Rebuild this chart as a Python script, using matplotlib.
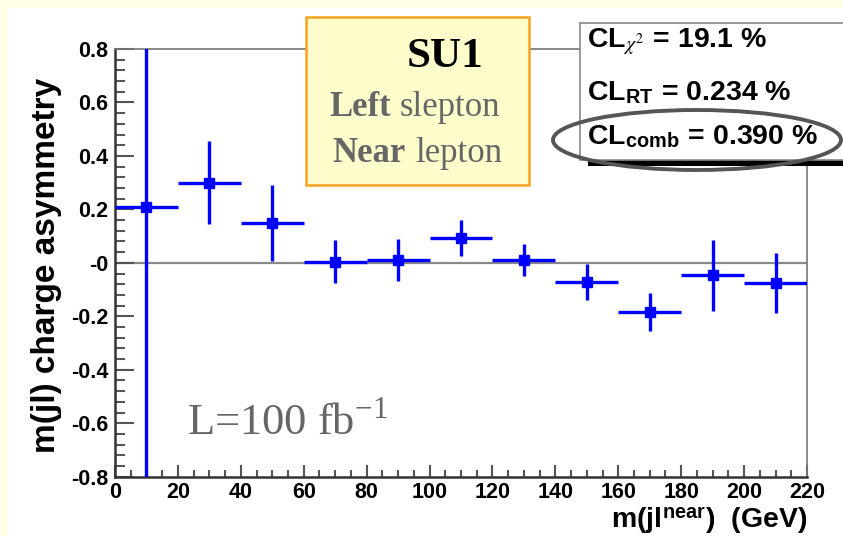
import matplotlib
matplotlib.use("Agg")
import matplotlib.pyplot as plt
from matplotlib.patches import Rectangle, Ellipse
from matplotlib.ticker import MultipleLocator, FuncFormatter

# charge asymmetry per m(jl) bin
bin_centres = [10, 30, 50, 70, 90, 110, 130, 150, 170, 190, 210]
bin_half_width = 10
asymmetry = [0.21, 0.30, 0.15, 0.005, 0.01, 0.093, 0.01, -0.072, -0.184, -0.047, -0.075]
asym_err = [1.2, 0.155, 0.143, 0.082, 0.078, 0.066, 0.06, 0.068, 0.07, 0.134, 0.111]

cl_lines = [r"CL$_{\chi^{2}}$ = 19.1 %",
            r"CL$_\mathregular{RT}$ = 0.234 %",
            r"CL$_\mathregular{comb}$ = 0.390 %"]

W, H = 843, 536
plt.rcParams['mathtext.fontset'] = 'stix'
sans = 'Liberation Sans'
serif = 'Liberation Serif'

fig = plt.figure(figsize=(W / 100, H / 100), dpi=100, facecolor='#fefee6')


def fx(p):
    return p / W


def fy(p):
    return 1 - p / H


# white slide panel
fig.add_artist(Rectangle((fx(8), 0), 1 - fx(8), fy(8), transform=fig.transFigure,
                         facecolor='white', edgecolor='none', zorder=0))

ax = fig.add_axes([fx(115), fy(476.7), fx(807) - fx(115), fy(49) - fy(476.7)])
ax.set_facecolor('white')
ax.set_xlim(0, 220)
ax.set_ylim(-0.8, 0.8)

ax.axhline(0, color='#888888', lw=1.6, zorder=1)
ax.errorbar(bin_centres, asymmetry, xerr=bin_half_width, yerr=asym_err, fmt='s',
            color='#0000ff', ms=7, elinewidth=2.4, capsize=0, zorder=3)

for side in ['left', 'bottom']:
    ax.spines[side].set_color('#333333')
    ax.spines[side].set_linewidth(1.8)
for side in ['top', 'right']:
    ax.spines[side].set_color('#777777')
    ax.spines[side].set_linewidth(1.2)

ax.xaxis.set_major_locator(MultipleLocator(20))
ax.xaxis.set_minor_locator(MultipleLocator(5))
ax.yaxis.set_major_locator(MultipleLocator(0.2))
ax.yaxis.set_minor_locator(MultipleLocator(0.04))
ax.yaxis.set_major_formatter(FuncFormatter(lambda v, p: '-0' if abs(v) < 1e-9 else f'{v:.1f}'))
ax.xaxis.set_major_formatter(FuncFormatter(lambda v, p: f'{v:.0f}'))

ax.tick_params(axis='y', which='major', direction='in', length=14, width=1.5, color='#555555', pad=5)
ax.tick_params(axis='y', which='minor', direction='in', length=7, width=1.5, color='#555555')
ax.tick_params(axis='x', which='major', direction='in', length=9, width=1.5, color='#555555', pad=4)
ax.tick_params(axis='x', which='minor', direction='in', length=5, width=1.5, color='#555555')
for lab in ax.get_xticklabels() + ax.get_yticklabels():
    lab.set_fontfamily(sans)
    lab.set_fontweight('bold')
    lab.set_fontsize(15.5)

ax.set_ylabel('m(jl) charge asymmetry', fontfamily=sans, fontweight='bold', fontsize=24)
ax.yaxis.set_label_coords(-0.077, 0.495)
ax.set_xlabel(r'm(jl$^\mathregular{near}$)  (GeV)', fontfamily=sans, fontweight='bold',
              fontsize=20.5, loc='right')
ax.xaxis.set_label_coords(1.0, -0.069)

ax.text(0.104, 0.126, r'L=100 fb$^\mathregular{-1}$', transform=ax.transAxes, fontfamily=serif,
        fontsize=32, color='#666666', ha='left', va='center')

# SU1 label box
fig.add_artist(Rectangle((fx(306), fy(185)), fx(529) - fx(306), fy(17) - fy(185),
                         transform=fig.transFigure, facecolor='#fffdcc',
                         edgecolor='#f7a21e', lw=1.8, zorder=5))
fig.text(fx(445), fy(57), 'SU1', fontfamily=serif, fontweight='bold', fontsize=31,
         ha='center', va='center', zorder=6)
fig.text(fx(391), fy(108), 'Left', fontfamily=serif, fontweight='bold', fontsize=25,
         color='#666666', ha='right', va='center', zorder=6)
fig.text(fx(400), fy(108), 'slepton', fontfamily=serif, fontsize=25,
         color='#666666', ha='left', va='center', zorder=6)
fig.text(fx(406), fy(153), 'Near', fontfamily=serif, fontweight='bold', fontsize=25,
         color='#666666', ha='right', va='center', zorder=6)
fig.text(fx(415), fy(153), 'lepton', fontfamily=serif, fontsize=25,
         color='#666666', ha='left', va='center', zorder=6)

# confidence level box with shadow
fig.add_artist(Rectangle((fx(588), fy(166)), 1 - fx(588), fy(158) - fy(166),
                         transform=fig.transFigure, facecolor='black', edgecolor='none', zorder=5))
fig.add_artist(Rectangle((fx(580), fy(160)), 1 - fx(580) + 0.01, fy(23) - fy(160),
                         transform=fig.transFigure, facecolor='white',
                         edgecolor='#888888', lw=1.2, zorder=5))
for txt, ypix in zip(cl_lines, [42, 93, 137]):
    fig.text(fx(587), fy(ypix), txt, fontfamily=sans, fontweight='bold', fontsize=20.5,
             ha='left', va='center', zorder=6)
fig.add_artist(Ellipse((fx(697), fy(140)), fx(288), 60 / H, transform=fig.transFigure,
                       facecolor='none', edgecolor='#555555', lw=2.8, zorder=7))

fig.savefig('out.png', dpi=100, facecolor=fig.get_facecolor())
